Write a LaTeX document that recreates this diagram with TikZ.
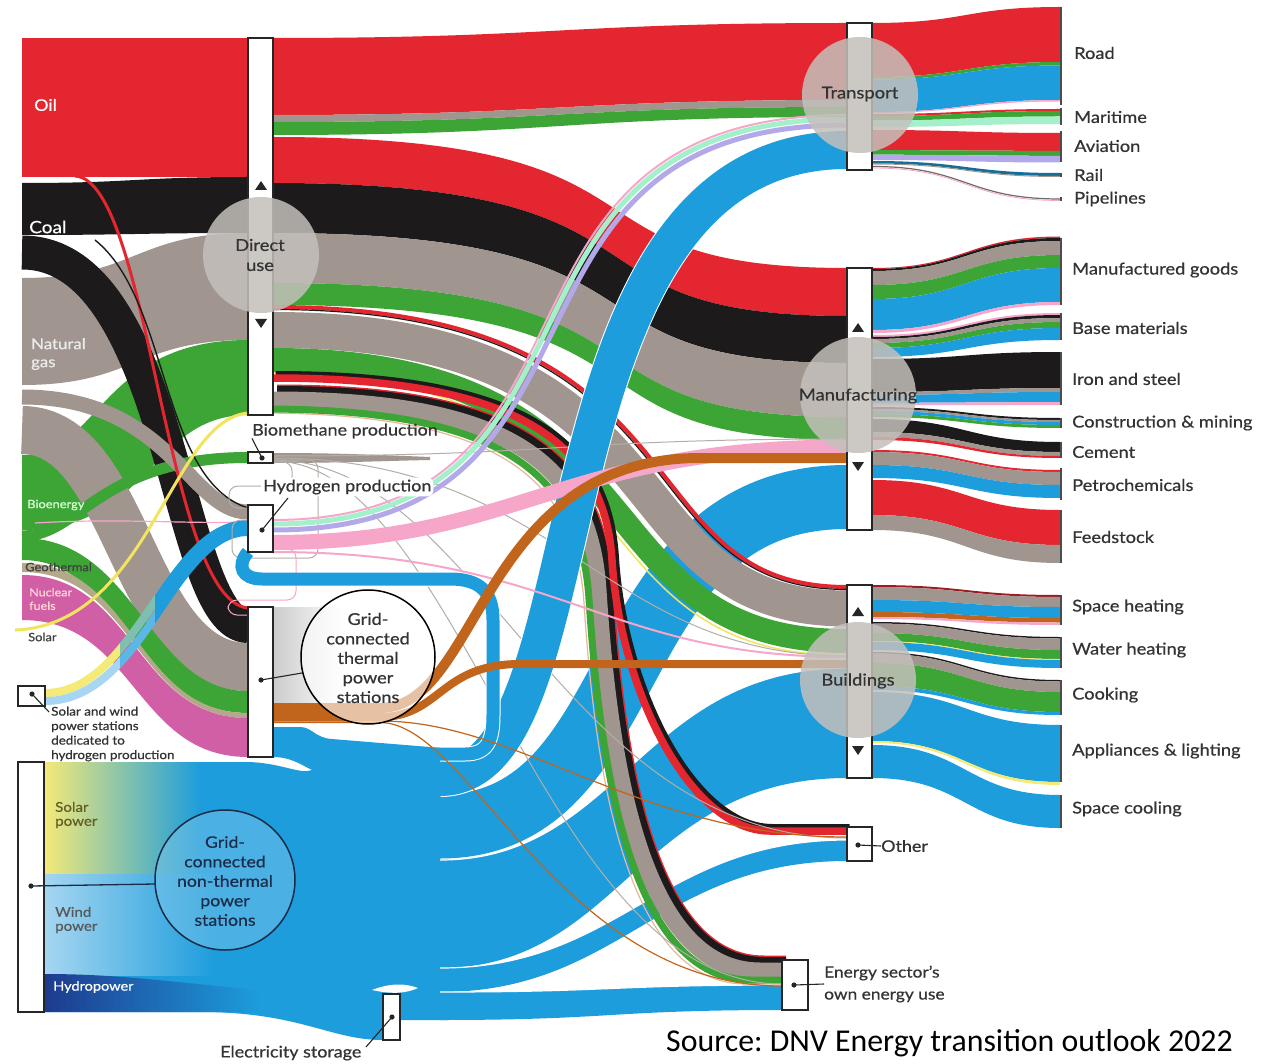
\documentclass[tikz,border=0pt]{standalone}
\usepackage{fontspec}
\setmainfont{Lato}[FakeBold=0.6,FakeStretch=1.12]
\newfontfamily\srcfont{Carlito}

\definecolor{oilc}{HTML}{E3262F}
\definecolor{coalc}{HTML}{1C1A1A}
\definecolor{gasc}{HTML}{A0968F}
\definecolor{bioc}{HTML}{3DA535}
\definecolor{nucc}{HTML}{D15FA5}
\definecolor{geoc}{HTML}{B3A98A}
\definecolor{solc}{HTML}{F4EA78}
\definecolor{solline}{HTML}{F2E45C}
\definecolor{elec}{HTML}{1D9DDC}
\definecolor{windc}{HTML}{A6D6F1}
\definecolor{hydc}{HTML}{1E3A8E}
\definecolor{heatc}{HTML}{C2651C}
\definecolor{hydpk}{HTML}{F6A6C9}
\definecolor{aquac}{HTML}{A3F0CB}
\definecolor{lavc}{HTML}{B3A9EA}
\definecolor{hubc}{HTML}{C4C0BC}
\definecolor{labelc}{HTML}{333333}
\definecolor{navy}{HTML}{1B2C4A}
\definecolor{loopc}{HTML}{B4AEA9}

% filled band between two vertical cuts, S-shaped
\newcommand\flowband[7]{%
  \fill[#1] (#2,#3) .. controls ({(#2+#5)/2},#3) and ({(#2+#5)/2},#6) .. (#5,#6)
    -- (#5,#7) .. controls ({(#2+#5)/2},#7) and ({(#2+#5)/2},#4) .. (#2,#4) -- cycle;}
% same, with explicit control abscissae
\newcommand\flowbandc[9]{%
  \fill[#1] (#2,#3) .. controls (#8,#3) and (#9,#6) .. (#5,#6)
    -- (#5,#7) .. controls (#9,#7) and (#8,#4) .. (#2,#4) -- cycle;}
% constant-width ribbon along an S curve
\newcommand\flowrib[8]{%
  \draw[#1,line width=#2pt] (#3,#4) .. controls (#7,#4) and (#8,#6) .. (#5,#6);}

\begin{document}
\frenchspacing
\begin{tikzpicture}[x=1pt,y=-1pt,
  hubbar/.style={fill=white,draw=black!85,line width=1.1pt},
  hubdisc/.style={fill=hubc,fill opacity=0.85},
  sectlab/.style={anchor=west,inner sep=0pt,text=labelc,font=\fontsize{16.3}{19}\selectfont},
  nodelab/.style={anchor=west,inner sep=0pt,text=labelc,font=\fontsize{16}{18}\selectfont},
  hubtext/.style={align=center,inner sep=0pt,text=black!80,font=\fontsize{16.4}{20}\selectfont},
  smalllab/.style={anchor=west,inner sep=0pt,align=left,font=\fontsize{11.5}{13}\selectfont},
  sectbar/.style={draw=black!70,line width=2.4pt},
  leadline/.style={draw=black!85,line width=1.1pt},
  pindot/.style={fill=black!85},
  hubtri/.style={fill=black!85},
  seam/.style={draw=white,line width=1.2pt},
  thinloop/.style={draw=loopc,line width=1pt,rounded corners=9pt}]

\useasboundingbox (0,0) rectangle (1263,1064);
\fill[white] (0,0) rectangle (1263,1064);

% ---------- primary energy into direct use ----------
\fill[oilc] (22,38) rectangle (248,177);
\flowband{coalc}{22}{183}{235}{248}{177}{233}
\flowband{gasc}{22}{278}{385}{248}{233}{340}
\fill[bioc] (22,455) .. controls (100,455) and (100,340) .. (248,340)
  -- (248,415) .. controls (150,415) and (150,530) .. (22,530) -- cycle;

% ---------- primary energy into thermal power, biomethane, hydrogen ----------
\flowrib{gasc}{48}{22}{430}{248}{667}{130}{130}
\flowrib{bioc}{22}{22}{549}{248}{702}{130}{140}
\flowband{geoc}{22}{563}{572}{248}{713}{718}
\flowband{nucc}{22}{575}{620}{248}{718}{757}
\flowrib{coalc}{34}{22}{252.5}{248}{626}{175}{175}
\flowrib{bioc}{11}{22}{536}{248}{457.5}{80}{100}
\flowrib{gasc}{15}{22}{397}{248}{512}{170}{190}
\draw[oilc,line width=3pt] (75,176) .. controls (150,180) and (165,600) .. (248,608);
\draw[coalc,line width=1.4pt] (95,240) .. controls (170,300) and (160,480) .. (248,508);
\draw[hydpk,line width=1.2pt] (35,523) .. controls (120,518) and (180,524) .. (248,522);
\draw[solline,line width=3pt] (15,630) .. controls (150,625) and (170,420) .. (248,413);

% dedicated solar and wind into hydrogen
\begin{scope}
  \clip (40,600) rectangle (120,720);
  \flowrib{solc}{8}{45}{693}{248}{524}{136.4}{166.4}
  \flowrib{windc}{8}{45}{701}{248}{532}{143.6}{173.6}
\end{scope}
\begin{scope}
  \clip (120,400) rectangle (155,720);
  \flowrib{solc!45!elec}{8}{45}{693}{248}{524}{136.4}{166.4}
  \flowrib{windc!45!elec}{8}{45}{701}{248}{532}{143.6}{173.6}
\end{scope}
\begin{scope}
  \clip (155,400) rectangle (260,720);
  \flowrib{elec}{16}{45}{697}{248}{528}{140}{170}
\end{scope}

% ---------- direct use to transport and manufacturing ----------
\flowband{oilc}{273}{38}{115}{847}{23}{100}
\flowband{gasc}{273}{115}{122}{847}{100}{107}
\flowband{bioc}{273}{122}{135}{847}{107}{117}
\flowbandc{oilc}{273}{137}{183}{847}{268}{316}{700}{540}
\flowbandc{coalc}{273}{183}{233}{847}{316}{363}{700}{540}
\flowbandc{gasc}{273}{233}{283}{847}{363}{417}{700}{540}
\flowbandc{bioc}{273}{283}{305}{847}{417}{440}{700}{540}

% ---------- electricity pool ----------
\fill[elec] (44,762) -- (245,762) .. controls (280,762) and (300,775) .. (312,770)
  .. controls (300,764) and (290,757) .. (273,757) -- (273,727) -- (300,727)
  .. controls (312,727) and (315,738) .. (332,739) -- (448,748.5) -- (448,1020)
  -- (400,1020) -- (400,1040) -- (383,1040)
  .. controls (330,1040) and (300,1012) .. (200,1012) -- (44,1012) -- cycle;
\shade[left color=solc,middle color=solc,right color=elec] (44,762) rectangle (200,874);
\shade[left color=windc,middle color=windc,right color=elec] (44,874) rectangle (215,975);
\shade[left color=hydc,middle color=hydc!80!elec,right color=elec]
  (44,974) .. controls (120,974) and (170,982) .. (260,990) -- (260,1012) -- (44,1012) -- cycle;

% electricity to manufacturing, buildings, other, energy sector
\draw[white,line width=66pt] (440,826.5) .. controls (650,826.5) and (600,497) .. (847,497);
\draw[elec,line width=64pt] (436,826.5) -- (440,826.5) .. controls (650,826.5) and (600,497) .. (847,497);
\flowbandc{elec}{440}{860}{968}{847}{668}{778}{620}{640}
\flowbandc{elec}{440}{968}{992}{847}{840}{861}{620}{660}
\flowband{elec}{440}{992}{1020}{782}{985}{1010}
\draw[seam] (440,860) .. controls (620,860) and (640,668) .. (847,668);
\draw[seam] (440,968) .. controls (620,968) and (660,840) .. (847,840);
\draw[seam] (440,992) .. controls (611,992) and (611,985) .. (782,985);
\fill[white] (372,990) .. controls (390,983) and (405,983) .. (418,988)
  .. controls (405,994) and (390,994) .. (372,990) -- cycle;

% ---------- direct use to buildings ----------
\flowrib{gasc}{36}{273}{330}{847}{608.5}{700}{600}
\flowrib{bioc}{24}{273}{360}{847}{641}{673}{573}
\flowrib{solline}{1.5}{273}{372.5}{847}{655.5}{662}{562}
\flowrib{oilc}{4}{273}{307}{847}{587}{718}{618}
\flowrib{coalc}{1.2}{273}{309.5}{847}{589.5}{716}{616}

% ---------- direct use to the energy sector's own use ----------
\begin{scope}[shift={(4,-4)}]
  \draw[oilc,line width=23pt] (273,400) .. controls (520,400) and (590,470) .. (598,590)
    .. controls (609,760) and (640,971) .. (760,971) -- (782,971);
  \draw[coalc,line width=20pt] (273,400) .. controls (520,400) and (590,470) .. (598,590)
    .. controls (609,760) and (640,971) .. (760,971) -- (782,971);
\end{scope}
\draw[gasc,line width=17pt] (273,400) .. controls (520,400) and (590,470) .. (598,590)
  .. controls (609,760) and (640,971) .. (760,971) -- (782,971);
\begin{scope}[shift={(-14,13)}]
  \draw[heatc!45!white,line width=1.2pt] (273,400) .. controls (520,400) and (590,470) .. (598,590)
    .. controls (609,760) and (640,971) .. (760,971) -- (796,971);
\end{scope}
\begin{scope}[shift={(-9,9)}]
  \draw[bioc,line width=7pt] (273,400) .. controls (520,400) and (590,470) .. (598,590)
    .. controls (609,760) and (640,971) .. (760,971) -- (791,971);
\end{scope}

% ---------- direct use to other ----------
\begin{scope}[shift={(2.5,-2.5)}]
  \draw[coalc,line width=9pt] (273,378) .. controls (530,378) and (605,450) .. (612,560)
    .. controls (620,690) and (690,831) .. (770,831) -- (847,831);
\end{scope}
\draw[oilc,line width=7.5pt] (273,378) .. controls (530,378) and (605,450) .. (612,560)
  .. controls (620,690) and (690,831) .. (770,831) -- (847,831);

% biomethane outputs and small loops round hydrogen
\fill[gasc] (273,453) .. controls (340,453) and (380,455) .. (430,457) -- (430,460)
  .. controls (380,461) and (340,463) .. (273,463) -- cycle;
\draw[loopc,line width=1pt] (273,456) .. controls (560,456) and (560,439) .. (847,439);
\draw[loopc,line width=1pt] (273,458) .. controls (560,458) and (600,656) .. (847,656);
\draw[loopc,line width=1pt] (273,460) .. controls (480,460) and (560,838) .. (847,838);
\draw[loopc,line width=1pt] (273,461) .. controls (460,461) and (540,984) .. (782,984);
\draw[thinloop] (273,460) -- (318,460) -- (318,558) -- (232,558) -- (232,520) -- (248,520);
\draw[thinloop] (273,462) -- (292,462) -- (292,486) -- (229,486) -- (229,508) -- (248,508);
\draw[thinloop,draw=hydpk] (273,549) -- (296,549) -- (296,600) -- (228,600) -- (228,615) -- (248,615);

% electricity to transport
\draw[white,line width=40pt] (440,777) .. controls (610,777) and (520,150) .. (847,150);
\draw[elec,line width=38pt] (436,777) -- (440,777) .. controls (610,777) and (520,150) .. (847,150);
% electricity loop into hydrogen production
\draw[white,line width=15pt] (440,754) -- (465,754) .. controls (488,754) and (493,740) .. (493,715)
  -- (493,620) .. controls (493,592) and (480,579) .. (450,579) -- (300,579);
\draw[elec,line width=13pt] (430,754) -- (465,754) .. controls (488,754) and (493,740) .. (493,715)
  -- (493,620) .. controls (493,592) and (480,579) .. (450,579) -- (262,579)
  .. controls (242,579) and (236,566) .. (248,552);

% ---------- hydrogen outputs ----------
\flowrib{hydpk}{2}{273}{520}{847}{115}{633.7}{453.7}
\flowrib{aquac}{5}{273}{524}{847}{119}{637.3}{457.3}
\flowrib{lavc}{5}{273}{530}{847}{125}{642.7}{462.7}
\draw[hydpk,line width=15pt] (273,542.5) .. controls (520,542.5) and (560,447) .. (847,447);
\draw[hydpk,line width=2pt] (273,552) .. controls (560,552) and (600,657) .. (847,657);

% ---------- thermal power: losses and heat ----------
\shade[left color=black!20,right color=white] (273,607) rectangle (345,702);
\draw[heatc,line width=10pt] (273,708) -- (380,708) .. controls (480,708) and (480,458) .. (700,458) -- (847,458);
\draw[heatc,line width=8pt] (273,717) -- (380,717) .. controls (440,717) and (440,664) .. (520,664) -- (847,664);
\draw[heatc,line width=1.2pt] (273,721) -- (380,721) .. controls (520,721) and (640,837) .. (847,837);
\draw[heatc,line width=1.2pt] (273,722.5) -- (380,722.5) .. controls (470,722.5) and (560,986) .. (782,986);

% ---------- transport end uses ----------
\flowband{oilc}{872}{23}{77}{1060}{7}{62}
\flowband{bioc}{872}{77}{79.5}{1060}{62}{65.5}
\flowband{elec}{872}{79.5}{112}{1060}{65.5}{100}
\flowband{hydpk}{872}{112}{113}{1060}{100}{101.5}
\flowband{oilc}{872}{114}{116}{1060}{109}{111}
\flowband{bioc}{872}{116}{120.5}{1060}{111}{116.5}
\flowband{aquac}{872}{120.5}{127}{1060}{116.5}{124}
\flowband{oilc}{872}{130}{150}{1060}{133}{151}
\flowband{bioc}{872}{150}{154.5}{1060}{151}{156}
\flowband{lavc}{872}{154.5}{160}{1060}{156}{162.5}
\flowband{elec!70!black}{872}{161}{163.5}{1060}{173}{176}
\flowband{gasc}{872}{163.5}{164.5}{1060}{176}{177}
\draw[gasc!70!black,line width=1.2pt] (872,166.5) .. controls (966,166.5) and (966,199) .. (1060,199);
\draw[hydpk,line width=0.8pt] (872,168) .. controls (966,168) and (966,200.5) .. (1060,200.5);

% ---------- manufacturing end uses ----------
\flowband{oilc}{872}{268}{269}{1060}{236.5}{238}
\flowband{coalc}{872}{269}{271}{1060}{238}{241}
\flowband{gasc}{872}{271}{285}{1060}{241}{255}
\flowband{bioc}{872}{285}{299}{1060}{255}{268}
\flowband{elec}{872}{299}{330}{1060}{268}{302}
\flowband{hydpk}{872}{330}{333}{1060}{302}{305}
\flowband{hydpk}{872}{335}{337}{1060}{313}{315}
\flowband{coalc}{872}{337}{339}{1060}{315}{318}
\flowband{gasc}{872}{339}{343}{1060}{318}{322}
\flowband{bioc}{872}{343}{348}{1060}{322}{328}
\flowband{elec}{872}{348}{357}{1060}{328}{340}
\flowband{coalc}{872}{359}{392}{1060}{352}{388}
\flowband{gasc}{872}{392}{395}{1060}{388}{392}
\flowband{elec}{872}{395}{403}{1060}{392}{402}
\flowband{hydpk}{872}{403}{405}{1060}{402}{405}
\flowband{coalc}{872}{407}{409}{1060}{418}{420}
\flowband{gasc}{872}{409}{411}{1060}{420}{422}
\flowband{elec}{872}{411}{414}{1060}{422}{425}
\flowband{bioc}{872}{414}{417}{1060}{425}{428}
\flowband{coalc}{872}{419}{432}{1060}{442}{452}
\flowband{gasc}{872}{432}{437}{1060}{452}{456}
\flowband{oilc}{872}{437}{440}{1060}{456}{458}
\flowband{oilc}{872}{450}{452}{1060}{470}{472}
\flowband{gasc}{872}{452}{465}{1060}{472}{485}
\flowband{elec}{872}{465}{478}{1060}{485}{498}
\flowband{oilc}{872}{480}{515}{1060}{510}{545}
\flowband{gasc}{872}{515}{530}{1060}{545}{563}

% ---------- buildings end uses ----------
\flowband{oilc!70!black}{872}{585}{587}{1060}{595}{597}
\flowband{gasc}{872}{587}{600}{1060}{597}{607}
\flowband{elec}{872}{600}{612}{1060}{607}{618}
\flowband{heatc}{872}{612}{617}{1060}{618}{622.5}
\flowband{hydpk}{872}{617}{619}{1060}{622.5}{625}
\flowband{coalc}{872}{622}{623.5}{1060}{637}{638.5}
\flowband{gasc}{872}{623.5}{633}{1060}{638.5}{650}
\flowband{bioc}{872}{633}{641}{1060}{650}{659}
\flowband{solc}{872}{641}{642}{1060}{659}{660}
\flowband{elec}{872}{642}{650}{1060}{660}{668}
\flowband{coalc}{872}{652}{653.5}{1060}{680}{681.5}
\flowband{gasc}{872}{653.5}{663}{1060}{681.5}{692}
\flowband{bioc}{872}{663}{686}{1060}{692}{712}
\flowband{elec}{872}{686}{690}{1060}{712}{715}
\flowband{elec}{872}{692}{741}{1060}{725}{782}
\flowband{solc}{872}{741}{743}{1060}{782}{785}
\flowband{elec}{872}{745}{778}{1060}{795}{828}

% ---------- process bars ----------
\draw[hubbar] (248,38) rectangle (273,415);
\draw[hubbar] (248,452) rectangle (273,463);
\draw[hubbar] (248,505) rectangle (273,552);
\draw[hubbar] (248,607) rectangle (273,757);
\draw[hubbar] (847,23) rectangle (872,170);
\draw[hubbar] (847,268) rectangle (872,530);
\draw[hubbar] (847,585) rectangle (872,778);
\draw[hubbar] (847,827) rectangle (872,861);
\draw[hubbar] (782,960) rectangle (808,1010);
\draw[hubbar] (383,994) rectangle (400,1040);
\draw[hubbar] (18,762) rectangle (44,1012);
\draw[hubbar] (18,686) rectangle (45,706);

% hub discs
\fill[hubdisc] (261,255) circle (58);
\fill[hubdisc] (860,95) circle (58);
\fill[hubdisc] (858,395) circle (58);
\fill[hubdisc] (858,680) circle (58);

% direction marks
\fill[hubtri] (255,190) -- (267,190) -- (261,181) -- cycle;
\fill[hubtri] (255,319) -- (267,319) -- (261,328) -- cycle;
\fill[hubtri] (852,332) -- (864,332) -- (858,323) -- cycle;
\fill[hubtri] (852,462) -- (864,462) -- (858,471) -- cycle;
\fill[hubtri] (852,616) -- (864,616) -- (858,607) -- cycle;
\fill[hubtri] (852,746) -- (864,746) -- (858,755) -- cycle;

% power station discs
\fill[white,fill opacity=0.6] (368,657) circle (67);
\draw[black,line width=1.5pt] (368,657) circle (67);
\fill[elec!55!white,fill opacity=0.45] (225,880) circle (70);
\draw[navy,line width=1.5pt] (225,880) circle (70);

% ---------- pins and leaders ----------
\coordinate (pBio) at (262,458);
\coordinate (pHyd) at (262,530);
\coordinate (pTh) at (261,680);
\coordinate (pNt) at (31,886);
\coordinate (pDed) at (32,694);
\coordinate (pSto) at (392,1017);
\coordinate (pOth) at (858,845);
\coordinate (pEn) at (794,985);
\foreach \p in {pBio,pHyd,pTh,pNt,pDed,pSto,pOth,pEn} \fill[pindot] (\p) circle (2.6);

% ---------- labels ----------
\node[hubtext] (tDirect) at (260,255) {Direct\\use};
\node[hubtext] (tTransport) at (860,94) {Transport};
\node[hubtext] (tManu) at (858,396) {Manufacturing};
\node[hubtext] (tBuild) at (858,681) {Buildings};
\node[hubtext,font=\fontsize{16.2}{19.5}\selectfont] (tThermal) at (368,658) {Grid-\\connected\\thermal\\power\\stations};
\node[hubtext,text=navy,font=\fontsize{15.8}{19.5}\selectfont] (tNonth) at (225,881) {Grid-\\connected\\non-thermal\\power\\stations};

\node[nodelab] (tBiometh) at (252,431) {Biomethane production};
\node[nodelab,fill=white,rounded corners=6pt,inner sep=2pt] (tHydro) at (261,487) {Hydrogen production};
\node[nodelab] (tStore) at (220,1053) {Electricity storage};
\node[nodelab] (tOther) at (881,846) {Other};
\node[nodelab,align=left,font=\fontsize{15.5}{22}\selectfont] (tEnergy) at (824,984) {Energy sector's\\own energy use};

\draw[leadline] (pBio) -- (tBiometh.south west);
\draw[leadline] (pHyd) -- (288,498);
\draw[leadline] (pTh) -- (302,673);
\draw[navy,line width=1.3pt] (pNt) -- (155,884);
\draw[leadline] (pDed) -- (49,712);
\draw[leadline] (pSto) -- (366,1047);
\draw[leadline] (pOth) -- (tOther.west);
\draw[leadline] (pEn) -- (tEnergy.west);

\node[anchor=west,inner sep=0pt,text=white,font=\fontsize{16}{19}\selectfont] (tOil) at (34,105) {Oil};
\node[anchor=west,inner sep=0pt,text=white,font=\fontsize{17}{20}\selectfont] (tCoal) at (29,227) {Coal};
\node[anchor=west,inner sep=0pt,align=left,text=black!8,font=\fontsize{15}{18}\selectfont] (tGas) at (31,354) {Natural\\gas};
\node[smalllab,text=green!15!white] (tBioen) at (27,505) {Bioenergy};
\node[smalllab,text=black!75] (tGeo) at (25,567) {Geothermal};
\node[smalllab,text=pink!60!white,font=\fontsize{11.2}{13.5}\selectfont] (tNuc) at (29,599) {Nuclear\\fuels};
\node[smalllab,text=black!75] (tSolar) at (28,637) {Solar};
\node[smalllab,text=black!80,font=\fontsize{12}{14.5}\selectfont] (tDedic) at (51,734) {Solar and wind\\power stations\\dedicated to\\hydrogen production};
\node[smalllab,text=olive!60!black,font=\fontsize{13.5}{14}\selectfont] (tSolP) at (55,815) {Solar\\power};
\node[smalllab,text=black!65,font=\fontsize{13.5}{14}\selectfont] (tWindP) at (55,920) {Wind\\power};
\node[smalllab,text=white,font=\fontsize{13}{14}\selectfont] (tHydP) at (53,987) {Hydropower};

% sector bars and labels
\draw[sectbar] (1061,7) -- (1061,105);
\draw[sectbar] (1061,108) -- (1061,125);
\draw[sectbar] (1061,131) -- (1061,162);
\draw[sectbar] (1061,173) -- (1061,177);
\draw[sectbar] (1061,197) -- (1061,201);
\draw[sectbar] (1061,238) -- (1061,305);
\draw[sectbar] (1061,313) -- (1061,340);
\draw[sectbar] (1061,352) -- (1061,405);
\draw[sectbar] (1061,418) -- (1061,428);
\draw[sectbar] (1061,442) -- (1061,458);
\draw[sectbar] (1061,468) -- (1061,500);
\draw[sectbar] (1061,510) -- (1061,563);
\draw[sectbar] (1061,595) -- (1061,625);
\draw[sectbar] (1061,637) -- (1061,668);
\draw[sectbar] (1061,680) -- (1061,715);
\draw[sectbar] (1061,725) -- (1061,782);
\draw[sectbar] (1061,795) -- (1061,828);

\node[sectlab] (sRoad) at (1074,53) {Road};
\node[sectlab] (sMar) at (1074,117) {Maritime};
\node[sectlab] (sAvi) at (1074,146) {Aviation};
\node[sectlab] (sRail) at (1074,175) {Rail};
\node[sectlab] (sPipe) at (1074,199) {Pipelines};
\node[sectlab] (sMG) at (1072,270) {Manufactured goods};
\node[sectlab] (sBM) at (1072,328) {Base materials};
\node[sectlab] (sIS) at (1072,379) {Iron and steel};
\node[sectlab] (sCM) at (1072,423) {Construction \& mining};
\node[sectlab] (sCem) at (1072,452) {Cement};
\node[sectlab] (sPet) at (1072,485) {Petrochemicals};
\node[sectlab] (sFeed) at (1072,537) {Feedstock};
\node[sectlab] (sSH) at (1072,607) {Space heating};
\node[sectlab] (sWH) at (1072,650) {Water heating};
\node[sectlab] (sCook) at (1072,695) {Cooking};
\node[sectlab] (sAL) at (1072,751) {Appliances \& lighting};
\node[sectlab] (sSC) at (1072,809) {Space cooling};

\node[anchor=west,inner sep=0pt,text=black,font=\srcfont\fontsize{31.8}{36}\selectfont] (tSource) at (666,1043) {Source: DNV Energy transition outlook 2022};
\end{tikzpicture}
\end{document}
